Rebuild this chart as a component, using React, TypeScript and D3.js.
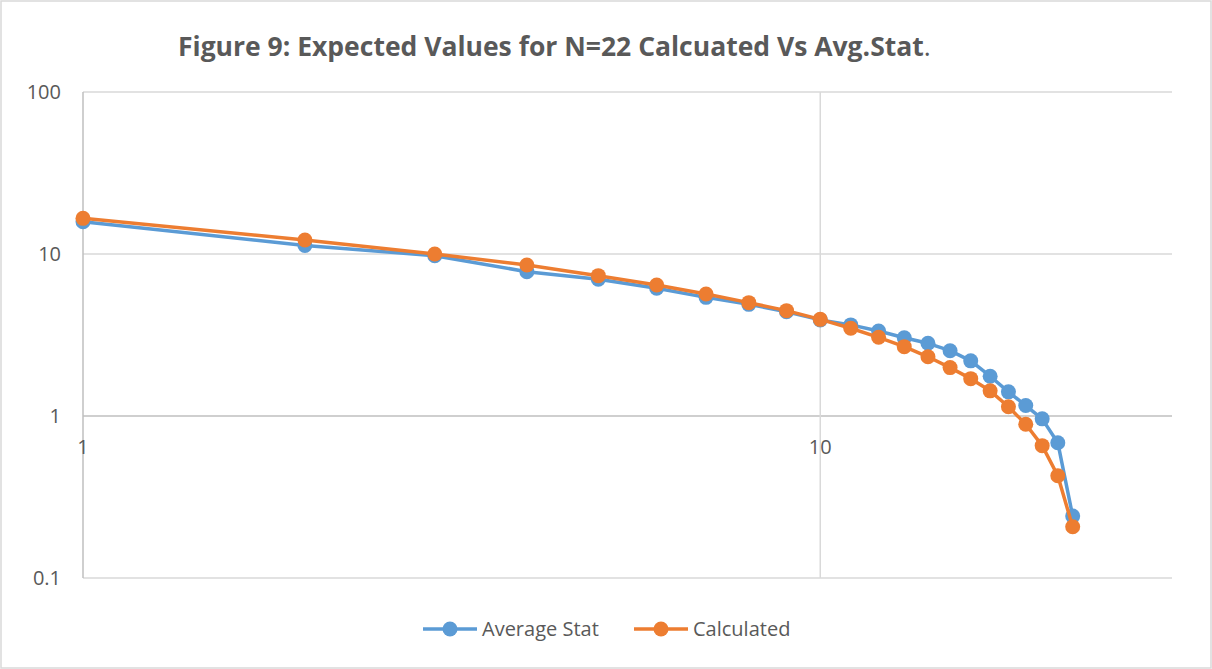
import React from "react";
import * as d3 from "d3";

const ranks = [1, 2, 3, 4, 5, 6, 7, 8, 9, 10, 11, 12, 13, 14, 15, 16, 17, 18, 19, 20, 21, 22];
const avgStat = [15.8, 11.3, 9.76, 7.78, 6.98, 6.14, 5.4, 4.89, 4.4, 3.92, 3.65, 3.35, 3.04, 2.81, 2.53, 2.19, 1.76, 1.41, 1.16, 0.96, 0.684, 0.241];
const calculated = [16.6, 12.2, 10.0, 8.55, 7.35, 6.44, 5.66, 5.01, 4.47, 3.95, 3.48, 3.06, 2.68, 2.32, 1.99, 1.7, 1.43, 1.14, 0.89, 0.656, 0.428, 0.207];
const yTicks = [0.1, 1, 10, 100];
const yTickLabels = ["0.1", "1", "10", "100"];
const xTicks = [1, 10];
const xTickLabels = ["1", "10"];
const seriesNames = ["Average Stat", "Calculated"];

const WIDTH = 1212;
const HEIGHT = 669;
const TEXT = "#595959";
const FONT = "'Open Sans', sans-serif";

const series = [
  { name: seriesNames[0], values: avgStat, color: "#5B9BD5" },
  { name: seriesNames[1], values: calculated, color: "#ED7D31" },
];

const App = () => {
  const x = d3.scaleLog().domain([1, 30]).range([83, 1172]);
  const y = d3.scaleLog().domain([0.1, 100]).range([578, 92]);

  const line = d3
    .line<number>()
    .x((d, i) => x(ranks[i]))
    .y((d) => y(d));

  return (
    <svg
      width={WIDTH}
      height={HEIGHT}
      style={{ position: "absolute", left: 0, top: 0, background: "#fff" }}
    >
      {/* chart border */}
      <rect x={1} y={1} width={WIDTH - 2} height={HEIGHT - 2} fill="#fff" stroke="#d9d9d9" strokeWidth={1.5} />

      {/* Title */}
      <text x={178} y={56} fontFamily={FONT} fontSize={26.5} fontWeight="bold" fill={TEXT}>
        Figure 9: Expected Values for N=22 Calcuated Vs Avg.Stat
        <tspan fontWeight="normal">.</tspan>
      </text>

      {/* Horizontal gridlines */}
      {yTicks.map((t) => (
        <line
          key={"h" + t}
          x1={x(1)}
          x2={x(30)}
          y1={y(t)}
          y2={y(t)}
          stroke={t === 1 ? "#bfbfbf" : "#d9d9d9"}
          strokeWidth={1.5}
        />
      ))}
      {/* Vertical gridlines */}
      {xTicks.map((t) => (
        <line
          key={"v" + t}
          x1={x(t)}
          x2={x(t)}
          y1={y(100)}
          y2={y(0.1)}
          stroke={t === 1 ? "#bfbfbf" : "#d9d9d9"}
          strokeWidth={1.5}
        />
      ))}

      {/* Y tick labels */}
      {yTicks.map((t, i) => (
        <text
          key={"yl" + t}
          x={61}
          y={y(t) + 7}
          textAnchor="end"
          fontFamily={FONT}
          fontSize={20}
          fill={TEXT}
        >
          {yTickLabels[i]}
        </text>
      ))}
      {/* X tick labels */}
      {xTicks.map((t, i) => (
        <text
          key={"xl" + t}
          x={x(t)}
          y={y(1) + 38}
          textAnchor="middle"
          fontFamily={FONT}
          fontSize={20}
          fill={TEXT}
        >
          {xTickLabels[i]}
        </text>
      ))}

      {/* Series */}
      {series.map((s) => (
        <g key={s.name}>
          <path d={line(s.values) || ""} fill="none" stroke={s.color} strokeWidth={3.5} strokeLinejoin="round" />
          {s.values.map((v, i) => (
            <circle key={i} cx={x(ranks[i])} cy={y(v)} r={7.5} fill={s.color} />
          ))}
        </g>
      ))}

      {/* Legend */}
      {series.map((s, i) => {
        const lx = i === 0 ? 423 : 634;
        return (
          <g key={"lg" + s.name} transform={`translate(${lx}, 629)`}>
            <line x1={0} x2={54} y1={0} y2={0} stroke={s.color} strokeWidth={3.5} />
            <circle cx={27} cy={0} r={7.5} fill={s.color} />
            <text x={59} y={7} fontFamily={FONT} fontSize={20} fill={TEXT}>
              {s.name}
            </text>
          </g>
        );
      })}
    </svg>
  );
};

export default App;
